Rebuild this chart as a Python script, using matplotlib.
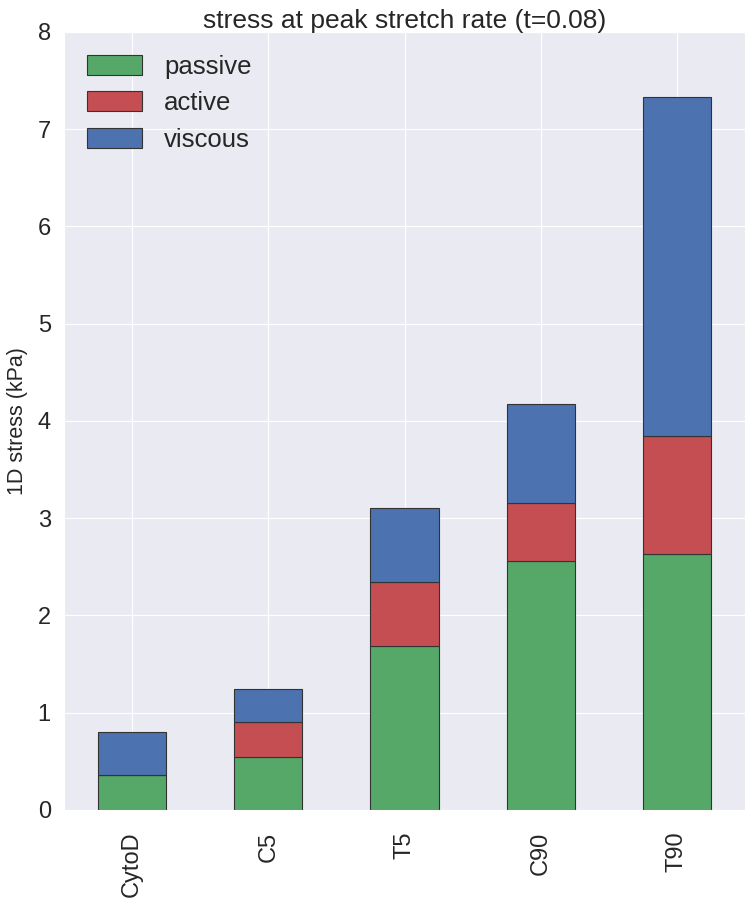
import matplotlib
matplotlib.use('Agg')
import matplotlib.pyplot as plt
import numpy as np
import seaborn as sns

# stress components per condition (kPa)
conditions = ['CytoD', 'C5', 'T5', 'C90', 'T90']
passive = [0.36, 0.55, 1.69, 2.56, 2.63]
active = [0.00, 0.35, 0.65, 0.60, 1.22]
viscous = [0.44, 0.34, 0.77, 1.01, 3.48]

sns.set_style('darkgrid')
plt.rcParams['font.family'] = ['Liberation Sans', 'DejaVu Sans']

fig = plt.figure(figsize=(7.47, 9), dpi=100)
ax = fig.add_axes([64 / 747, 0.1, 681 / 747, 0.8645])

x = np.arange(len(conditions))
bottom2 = np.array(passive) + np.array(active)
ax.bar(x, passive, 0.5, color='#55A868', edgecolor='#333333', linewidth=0.8, label='passive')
ax.bar(x, active, 0.5, bottom=passive, color='#C44E52', edgecolor='#333333', linewidth=0.8, label='active')
ax.bar(x, viscous, 0.5, bottom=bottom2, color='#4C72B0', edgecolor='#333333', linewidth=0.8, label='viscous')

ax.set_xlim(-0.5, len(conditions) - 0.5)
ax.set_ylim(0, 8)
ax.set_xticks(x)
ax.set_xticklabels(conditions, rotation=90)
ax.tick_params(axis='y', labelsize=17, pad=6)
ax.tick_params(axis='x', labelsize=17, pad=12)
ax.set_ylabel('1D stress (kPa)', fontsize=15.5, labelpad=7)
ax.set_title('stress at peak stretch rate (t=0.08)', fontsize=19, pad=2.5)
ax.legend(loc='upper left', fontsize=18.5, frameon=False, handlelength=2.15,
          handleheight=0.82, handletextpad=0.85, labelspacing=0.48,
          borderpad=0.3, borderaxespad=0.6)

fig.savefig('out.png', dpi=100)
